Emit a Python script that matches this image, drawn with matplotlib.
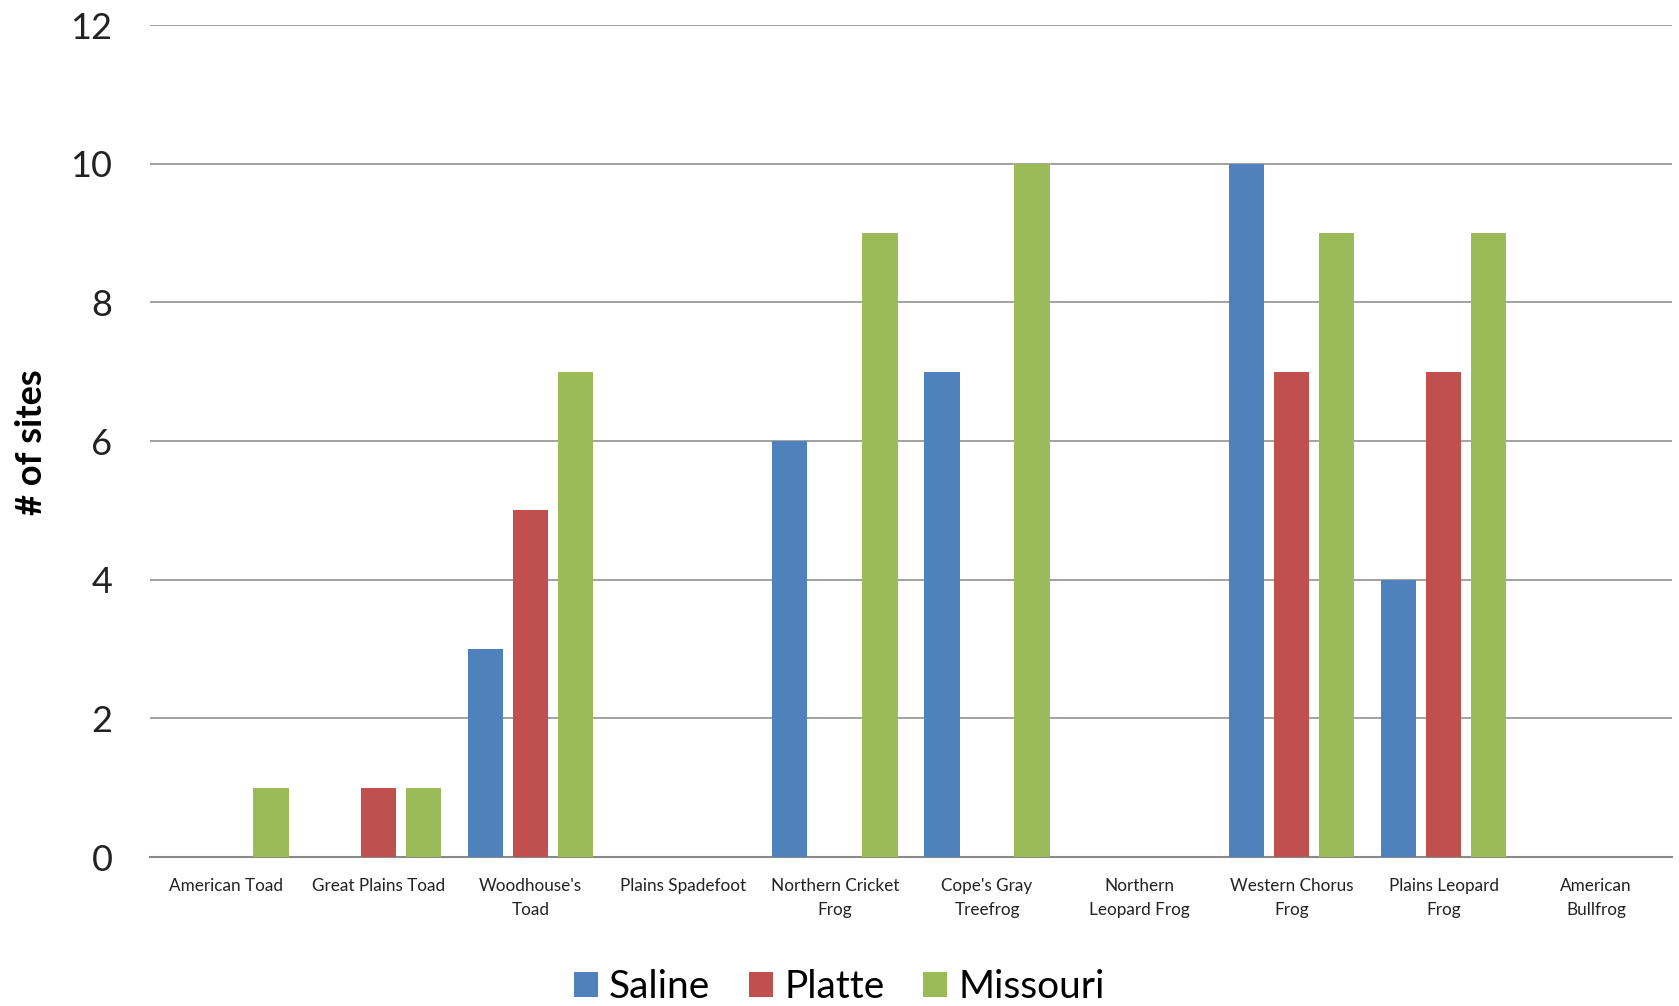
import numpy as np
import matplotlib.pyplot as plt

# 종 이름과 지역별 관찰 지점 수
species = ['American Toad', 'Great Plains Toad', "Woodhouse's\nToad", 'Plains Spadefoot',
           'Northern Cricket\nFrog', "Cope's Gray\nTreefrog", 'Northern\nLeopard Frog',
           'Western Chorus\nFrog', 'Plains Leopard\nFrog', 'American\nBullfrog']
saline = [0, 0, 3, 0, 6, 7, 0, 10, 4, 0]
platte = [0, 1, 5, 0, 0, 0, 0, 7, 7, 0]
missouri = [1, 1, 7, 0, 9, 10, 0, 9, 9, 0]
series_names = ['Saline', 'Platte', 'Missouri']
colors = ['#4F81BD', '#C0504D', '#9BBB59']

plt.rcParams['font.family'] = ['Lato', 'DejaVu Sans']

fig = plt.figure(figsize=(16.79, 10.06), dpi=100)
ax = fig.add_axes([0.0893, 0.148, 0.9065, 0.827])

x = np.arange(len(species))
w = 0.232
step = 0.296
for i, (vals, name, c) in enumerate(zip([saline, platte, missouri], series_names, colors)):
    ax.bar(x + (i - 1) * step, vals, width=w, color=c, label=name, zorder=3)

ax.set_xlim(-0.5, len(species) - 0.5)
ax.set_ylim(0, 12)
ax.set_yticks(range(0, 13, 2))
ax.tick_params(axis='y', length=0, labelsize=26, pad=27, colors='#222222')
ax.set_xticks(x)
ax.set_xticklabels(species, fontsize=12.3, color='#222222', linespacing=1.6)
ax.tick_params(axis='x', length=0, pad=15)
ax.grid(axis='y', color='#9a9a9a', linewidth=1.3, zorder=0)
for s in ['top', 'right', 'left']:
    ax.spines[s].set_visible(False)
ax.spines['bottom'].set_color('#8a8a8a')
ax.spines['bottom'].set_linewidth(1.5)

fig.text(0.019, 0.56, '# of sites', rotation=90, fontsize=26, fontweight='bold',
         ha='center', va='center')

fig.legend(loc='center', bbox_to_anchor=(0.5, 0.019), ncol=3, frameon=False,
           fontsize=28, handlelength=0.6, handleheight=0.6, handletextpad=0.3,
           columnspacing=1.0)

fig.savefig('out.png', dpi=100)
